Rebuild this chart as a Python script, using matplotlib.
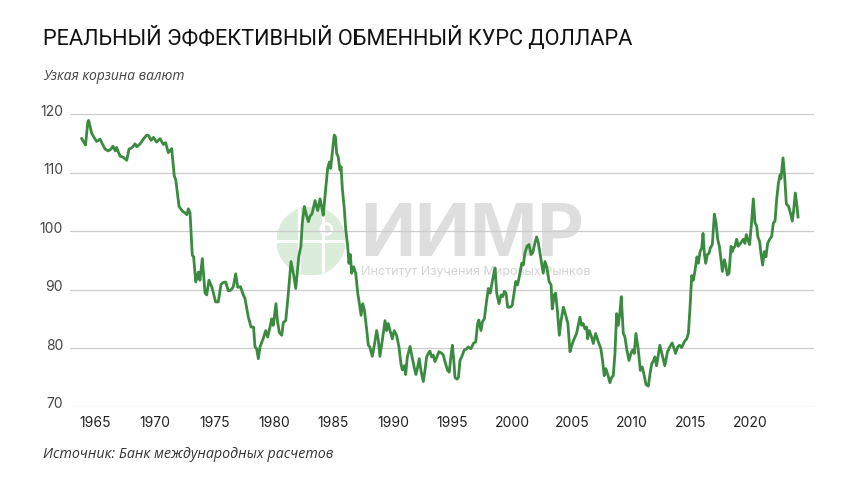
import matplotlib
matplotlib.use("Agg")
import matplotlib.pyplot as plt
from matplotlib.patches import Circle
from matplotlib.transforms import ScaledTranslation

# ---- data ----
years = [
    1963.88, 1964.2, 1964.4, 1964.47, 1964.72, 1964.95, 1965.14, 1965.42, 1965.84, 1966.1,
    1966.34, 1966.5, 1966.7, 1966.8, 1967.1, 1967.37, 1967.66, 1967.85, 1968.13, 1968.36,
    1968.5, 1968.78, 1969.05, 1969.34, 1969.5, 1969.7, 1969.9, 1970.17, 1970.45, 1970.73,
    1970.92, 1971.15, 1971.43, 1971.65, 1971.77, 1972.05, 1972.33, 1972.55, 1972.7, 1972.83,
    1972.97, 1973.16, 1973.27, 1973.45, 1973.67, 1973.8, 1974.0, 1974.23, 1974.37, 1974.56,
    1974.79, 1975.12, 1975.34, 1975.57, 1975.74, 1975.96, 1976.18, 1976.4, 1976.6, 1976.8,
    1976.97, 1977.2, 1977.44, 1977.58, 1977.86, 1978.09, 1978.3, 1978.42, 1978.56, 1978.7,
    1978.84, 1979.1, 1979.32, 1979.48, 1979.68, 1979.82, 1979.96, 1980.18, 1980.3, 1980.46,
    1980.66, 1980.8, 1981.0, 1981.22, 1981.44, 1981.64, 1981.84, 1982.0, 1982.1, 1982.27,
    1982.39, 1982.56, 1982.75, 1982.9, 1983.05, 1983.2, 1983.46, 1983.68, 1983.88, 1984.0,
    1984.15, 1984.35, 1984.52, 1984.66, 1984.77, 1984.9, 1985.07, 1985.17, 1985.27, 1985.4,
    1985.55, 1985.64, 1985.75, 1985.92, 1986.03, 1986.2, 1986.3, 1986.42, 1986.53, 1986.7,
    1986.87, 1987.04, 1987.18, 1987.32, 1987.46, 1987.6, 1987.8, 1987.93, 1988.06, 1988.26,
    1988.43, 1988.63, 1988.77, 1988.9, 1989.1, 1989.33, 1989.47, 1989.6, 1989.75, 1989.94,
    1990.1, 1990.3, 1990.5, 1990.67, 1990.78, 1990.95, 1991.06, 1991.2, 1991.43, 1991.6,
    1991.78, 1991.92, 1992.06, 1992.2, 1992.34, 1992.54, 1992.68, 1992.82, 1992.96, 1993.1,
    1993.24, 1993.38, 1993.52, 1993.86, 1994.1, 1994.22, 1994.36, 1994.58, 1994.72, 1994.87,
    1994.98, 1995.1, 1995.2, 1995.37, 1995.49, 1995.62, 1995.76, 1995.98, 1996.18, 1996.32,
    1996.54, 1996.74, 1996.94, 1997.1, 1997.2, 1997.38, 1997.5, 1997.66, 1997.86, 1998.0,
    1998.16, 1998.33, 1998.56, 1998.7, 1998.89, 1999.06, 1999.2, 1999.34, 1999.48, 1999.62,
    1999.82, 2000.0, 2000.15, 2000.3, 2000.45, 2000.65, 2000.8, 2000.93, 2001.07, 2001.24,
    2001.41, 2001.58, 2001.72, 2001.91, 2002.05, 2002.19, 2002.42, 2002.6, 2002.75, 2002.92,
    2003.09, 2003.26, 2003.36, 2003.53, 2003.64, 2003.8, 2003.95, 2004.1, 2004.29, 2004.49,
    2004.67, 2004.85, 2005.0, 2005.2, 2005.4, 2005.54, 2005.68, 2005.82, 2005.96, 2006.1,
    2006.24, 2006.33, 2006.47, 2006.66, 2006.8, 2007.0, 2007.22, 2007.44, 2007.58, 2007.72,
    2007.86, 2008.0, 2008.2, 2008.34, 2008.48, 2008.62, 2008.76, 2008.9, 2009.04, 2009.15,
    2009.32, 2009.46, 2009.6, 2009.8, 2009.96, 2010.1, 2010.24, 2010.38, 2010.58, 2010.75,
    2010.91, 2011.08, 2011.22, 2011.42, 2011.56, 2011.7, 2011.86, 2011.97, 2012.11, 2012.25,
    2012.39, 2012.59, 2012.8, 2013.03, 2013.22, 2013.42, 2013.59, 2013.7, 2013.88, 2014.05,
    2014.22, 2014.44, 2014.64, 2014.78, 2014.92, 2015.06, 2015.2, 2015.34, 2015.5, 2015.62,
    2015.76, 2015.9, 2016.01, 2016.12, 2016.23, 2016.37, 2016.51, 2016.62, 2016.79, 2016.96,
    2017.1, 2017.24, 2017.38, 2017.52, 2017.63, 2017.8, 2017.91, 2018.05, 2018.19, 2018.36,
    2018.47, 2018.58, 2018.69, 2018.83, 2018.97, 2019.11, 2019.25, 2019.39, 2019.53, 2019.64,
    2019.76, 2019.92, 2020.09, 2020.23, 2020.37, 2020.51, 2020.6, 2020.76, 2020.87, 2021.01,
    2021.15, 2021.29, 2021.43, 2021.6, 2021.77, 2021.91, 2022.05, 2022.19, 2022.33, 2022.47,
    2022.55, 2022.72, 2022.86, 2023.0, 2023.17, 2023.34, 2023.5, 2023.62, 2023.75, 2023.89,
    2023.98,
]
reer = [
    115.8, 114.7, 118.7, 118.9, 116.7, 115.9, 115.3, 115.7, 114.0, 113.7,
    114.0, 114.5, 113.7, 114.3, 112.8, 112.6, 112.1, 114.0, 114.3, 114.9,
    114.4, 114.9, 115.7, 116.4, 116.3, 115.5, 116.0, 115.2, 115.8, 114.8,
    115.1, 113.4, 114.1, 109.4, 108.8, 104.2, 103.4, 103.1, 102.8, 103.8,
    103.1, 95.9, 95.6, 91.3, 93.0, 91.6, 95.3, 89.4, 89.1, 91.6,
    90.5, 87.9, 87.9, 90.9, 91.2, 91.3, 89.8, 89.9, 90.5, 92.7,
    90.4, 90.5, 89.1, 88.5, 85.3, 83.6, 83.6, 80.2, 79.9, 78.2,
    80.2, 81.6, 83.0, 81.9, 83.6, 85.0, 83.9, 87.6, 84.7, 82.7,
    82.2, 84.4, 84.7, 89.4, 94.8, 92.8, 90.2, 93.7, 95.7, 97.4,
    101.4, 104.2, 102.6, 101.6, 102.6, 102.9, 105.2, 103.5, 105.5, 104.3,
    102.7, 107.2, 110.7, 111.8, 110.7, 113.3, 116.4, 116.1, 113.3, 112.7,
    110.4, 111.0, 107.2, 103.7, 100.3, 97.4, 94.5, 96.0, 92.8, 93.9,
    92.8, 89.4, 87.6, 85.6, 87.6, 86.5, 83.0, 80.5, 80.2, 78.6,
    80.5, 83.0, 81.3, 78.6, 81.3, 84.7, 83.0, 84.2, 83.0, 81.6,
    83.0, 82.2, 80.2, 77.3, 76.3, 77.0, 75.5, 78.5, 80.3, 78.5,
    76.7, 75.5, 76.7, 78.2, 76.2, 74.3, 76.2, 78.5, 79.1, 79.5,
    78.5, 78.8, 77.7, 79.4, 79.1, 78.8, 77.7, 76.2, 75.9, 78.8,
    80.5, 77.9, 75.0, 74.7, 75.0, 77.9, 78.5, 79.7, 79.9, 80.2,
    79.9, 80.8, 81.1, 84.2, 84.8, 83.0, 84.5, 85.0, 88.2, 90.2,
    89.4, 91.4, 93.7, 89.4, 87.6, 89.1, 88.8, 89.7, 89.4, 87.0,
    87.0, 87.3, 89.4, 91.4, 90.8, 92.8, 94.5, 94.2, 96.3, 97.4,
    97.7, 96.0, 96.3, 98.0, 99.0, 98.0, 95.1, 92.8, 94.8, 93.7,
    91.4, 90.8, 86.7, 89.1, 89.4, 86.2, 82.2, 84.7, 87.0, 85.6,
    84.2, 79.4, 80.5, 81.6, 82.5, 83.9, 85.3, 83.9, 84.2, 83.3,
    83.6, 81.6, 83.0, 81.9, 80.8, 82.5, 81.1, 79.9, 77.9, 75.3,
    76.5, 75.6, 74.1, 75.0, 75.3, 79.1, 85.9, 83.9, 86.2, 88.8,
    82.5, 81.9, 79.9, 77.9, 79.1, 79.7, 79.1, 82.5, 79.7, 76.2,
    76.8, 75.3, 73.8, 73.5, 75.6, 77.3, 77.9, 78.5, 77.0, 78.8,
    80.5, 78.8, 77.0, 79.4, 80.2, 80.9, 79.9, 79.1, 80.2, 80.5,
    80.1, 81.1, 81.6, 82.5, 87.0, 92.4, 91.6, 93.3, 95.6, 94.5,
    96.5, 97.1, 99.6, 96.2, 94.5, 96.0, 96.2, 97.1, 97.7, 102.9,
    101.4, 98.6, 97.4, 95.1, 93.1, 95.1, 94.2, 92.5, 92.8, 97.4,
    96.5, 97.1, 97.4, 98.6, 97.4, 97.8, 98.2, 98.6, 97.9, 99.4,
    98.6, 97.7, 101.7, 105.5, 101.4, 100.9, 99.1, 98.2, 96.2, 94.2,
    96.5, 95.6, 97.9, 98.6, 99.1, 101.4, 101.7, 105.5, 108.1, 109.6,
    109.0, 112.5, 109.3, 104.6, 104.3, 103.1, 101.7, 103.7, 106.5, 104.3,
    102.4,
]
xticks = [1965, 1970, 1975, 1980, 1985, 1990, 1995, 2000, 2005, 2010, 2015, 2020]
yticks = [70, 80, 90, 100, 110, 120]

title = "РЕАЛЬНЫЙ ЭФФЕКТИВНЫЙ ОБМЕННЫЙ КУРС ДОЛЛАРА"
subtitle = "Узкая корзина валют"
source = "Источник: Банк международных расчетов"
wm_big = "ИИМР"
wm_small = "Институт Изучения Мировых Рынков"

plt.rcParams['font.family'] = ['Inter', 'DejaVu Sans']

W, H = 860, 484
fig = plt.figure(figsize=(W / 100, H / 100), dpi=100)
fig.patch.set_facecolor('white')

# ---- watermark (behind the chart) ----
logo = fig.add_axes([(311 - 34) / W, 1 - (241 + 34) / H, 68 / W, 68 / H], zorder=-2)
logo.set_xlim(-1, 1)
logo.set_ylim(-1, 1)
logo.axis('off')
circ = Circle((0, 0), 1.0, color='#dcecda')
logo.add_patch(circ)
for xv in (-0.35, 0.35):
    logo.plot([xv, xv], [-1, 1], color='white', lw=2.2, clip_path=circ)
logo.plot([-1, 1], [0.0, 0.0], color='white', lw=2.2, clip_path=circ)
logo.add_patch(Circle((0.45, 0.35), 0.16, fc='#dcecda', ec='white', lw=2))

fig.text(360 / W, 1 - 256 / H, wm_big, fontsize=52, fontweight='bold',
         color='#dedede', va='baseline', ha='left', zorder=-3)
fig.text(361 / W, 1 - 272 / H, wm_small, fontsize=9, color='#d4d4d4',
         va='center', ha='left', zorder=-3)

# ---- main axes ----
ax = fig.add_axes([70 / W, 1 - 406.7 / H, (814 - 70) / W, (406.7 - 114) / H])
ax.patch.set_alpha(0)
ax.set_xlim(1962.9, 2025.32)
ax.set_ylim(70, 120)
for s in ax.spines.values():
    s.set_visible(False)

ax.set_yticks(yticks)
ax.set_xticks(xticks)
ax.grid(axis='y', color='#cccccc', lw=0.9)
ax.grid(axis='x', visible=False)
ax.set_axisbelow(True)
ax.tick_params(axis='y', length=0, pad=5, labelsize=10, labelcolor='#444444')
ax.tick_params(axis='x', length=0, pad=7, labelsize=10, labelcolor='#222222')
off = ScaledTranslation(0, 4 / 100, fig.dpi_scale_trans)
for lab in ax.get_yticklabels():
    lab.set_transform(lab.get_transform() + off)

ax.plot(years, reer, color='#3a8a40', lw=2.0, solid_joinstyle='round', clip_on=False)

# ---- texts ----
fig.text(43 / W, 1 - 38 / H, title, fontsize=15.7, color='#111111', va='center', ha='left',
         family=['Roboto', 'DejaVu Sans'])
fig.text(43 / W, 1 - 77 / H, subtitle, fontsize=10, style='italic', color='#444444',
         va='center', ha='left', family=['Open Sans', 'DejaVu Sans'])
fig.text(43 / W, 1 - 454 / H, source, fontsize=10.3, style='italic', color='#333333',
         va='center', ha='left', family=['Open Sans', 'DejaVu Sans'])

fig.savefig('out.png', dpi=100)
